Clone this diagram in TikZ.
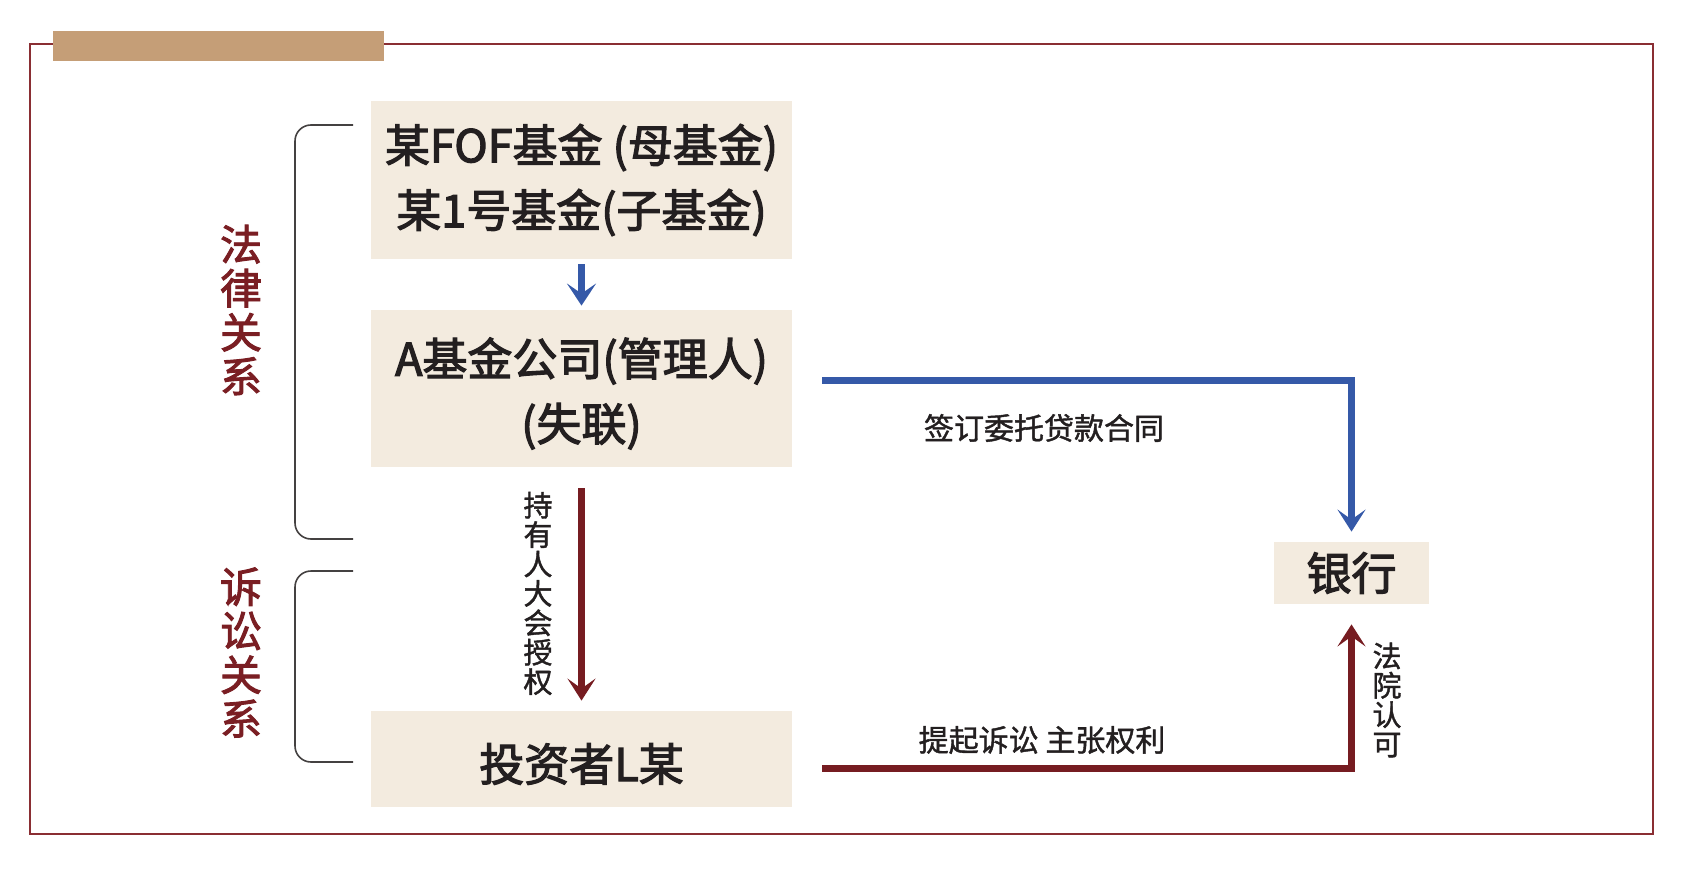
\documentclass[tikz,border=0pt]{standalone}
\usepackage{fontspec}
\setmainfont{Noto Sans CJK SC}
\newfontfamily\medfont{Noto Sans CJK SC}[FakeBold=2.6]
\newfontfamily\labfont{Noto Sans CJK SC}[FakeBold=2.2]
\newfontfamily\smallfont{Noto Sans CJK SC}[FakeBold=1.4]
\newcommand{\lowr}[1]{\raisebox{-2.5pt}[\height][\depth]{#1}}
\usetikzlibrary{arrows.meta}
\definecolor{framered}{HTML}{8A2E33}
\definecolor{tanbar}{HTML}{C59E77}
\definecolor{boxfill}{HTML}{F3EBDF}
\definecolor{arrblue}{HTML}{3559A8}
\definecolor{arrred}{HTML}{761C21}
\definecolor{txt}{HTML}{231F20}
\definecolor{labred}{HTML}{7A1E23}
\tikzset{
  box/.style={fill=boxfill, inner sep=0pt, text=txt, align=center,
    font=\fontsize{22.5}{32.5}\medfont},
  tipA/.style={-{Stealth[length=11pt,width=14pt,inset=5pt]}},
  bluearr/.style={draw=arrblue, line width=3.5pt, tipA},
  redarr/.style={draw=arrred, line width=3.5pt, tipA},
  smallblue/.style={draw=arrblue, line width=3.5pt, -{Stealth[length=11pt,width=14.5pt,inset=5pt]}},
  bracketline/.style={draw=txt!85, line width=0.8pt, rounded corners=8pt},
  grouplab/.style={text=labred, align=center, inner sep=0pt,
    font=\fontsize{21}{22}\labfont},
  edgelab/.style={text=txt, inner sep=0pt, font=\fontsize{15}{15}\smallfont},
  vlab/.style={text=txt, inner sep=0pt, align=center, font=\fontsize{14.5}{14.7}\smallfont},
}
\begin{document}
\begin{tikzpicture}[x=0.5pt,y=-0.5pt]
\useasboundingbox (0,0) rectangle (1689,871);
% frame and tab
\draw[framered, line width=1pt] (29.6,44) rectangle (1652.5,834);
\fill[tanbar] (53,31) rectangle (384,61);
% boxes
\node[box, minimum width=210.5pt, minimum height=79pt] (fof) at (581.5,180)
  {某FOF基金 (母基金)\\某1号基金(子基金)};
\node[box, minimum width=210.5pt, minimum height=78.5pt] (afund) at (581.5,388.5)
  {\lowr{A基金公司(管理人)}\\\lowr{(失联)}};
\node[box, minimum width=210.5pt, minimum height=48pt] (inv) at (581.5,759)
  {\lowr{投资者L某}};
\node[box, minimum width=77.5pt, minimum height=31pt] (bank) at (1351.5,573)
  {银行};
% brackets
\draw[bracketline] (353,125) -- (295,125) -- (295,539) -- (353,539);
\draw[bracketline] (353,571) -- (295,571) -- (295,762) -- (353,762);
\node[grouplab] (law) at (241,310) {法\\律\\关\\系};
\node[grouplab] (lit) at (241,652.5) {诉\\讼\\关\\系};
% connectors
\draw[smallblue, shorten <=2.5pt, shorten >=2pt] (fof.south) -- (afund.north);
\draw[redarr, shorten <=10.5pt, shorten >=5pt] (afund.south) -- (inv.north);
\node[vlab] (auth) at (538,593.5) {持\\有\\人\\大\\会\\授\\权};
\coordinate (bs) at (822,380);
\draw[bluearr, shorten >=5pt] (bs) -| (bank.north);
\node[edgelab] (contract) at (1044,428) {签订委托贷款合同};
\coordinate (rs) at (822,768);
\draw[redarr, shorten >=10pt] (rs) -| (bank.south);
\node[edgelab] (sue) at (1042,740) {提起诉讼 主张权利};
\node[vlab] (court) at (1387,700) {法\\院\\认\\可};
\end{tikzpicture}
\end{document}
